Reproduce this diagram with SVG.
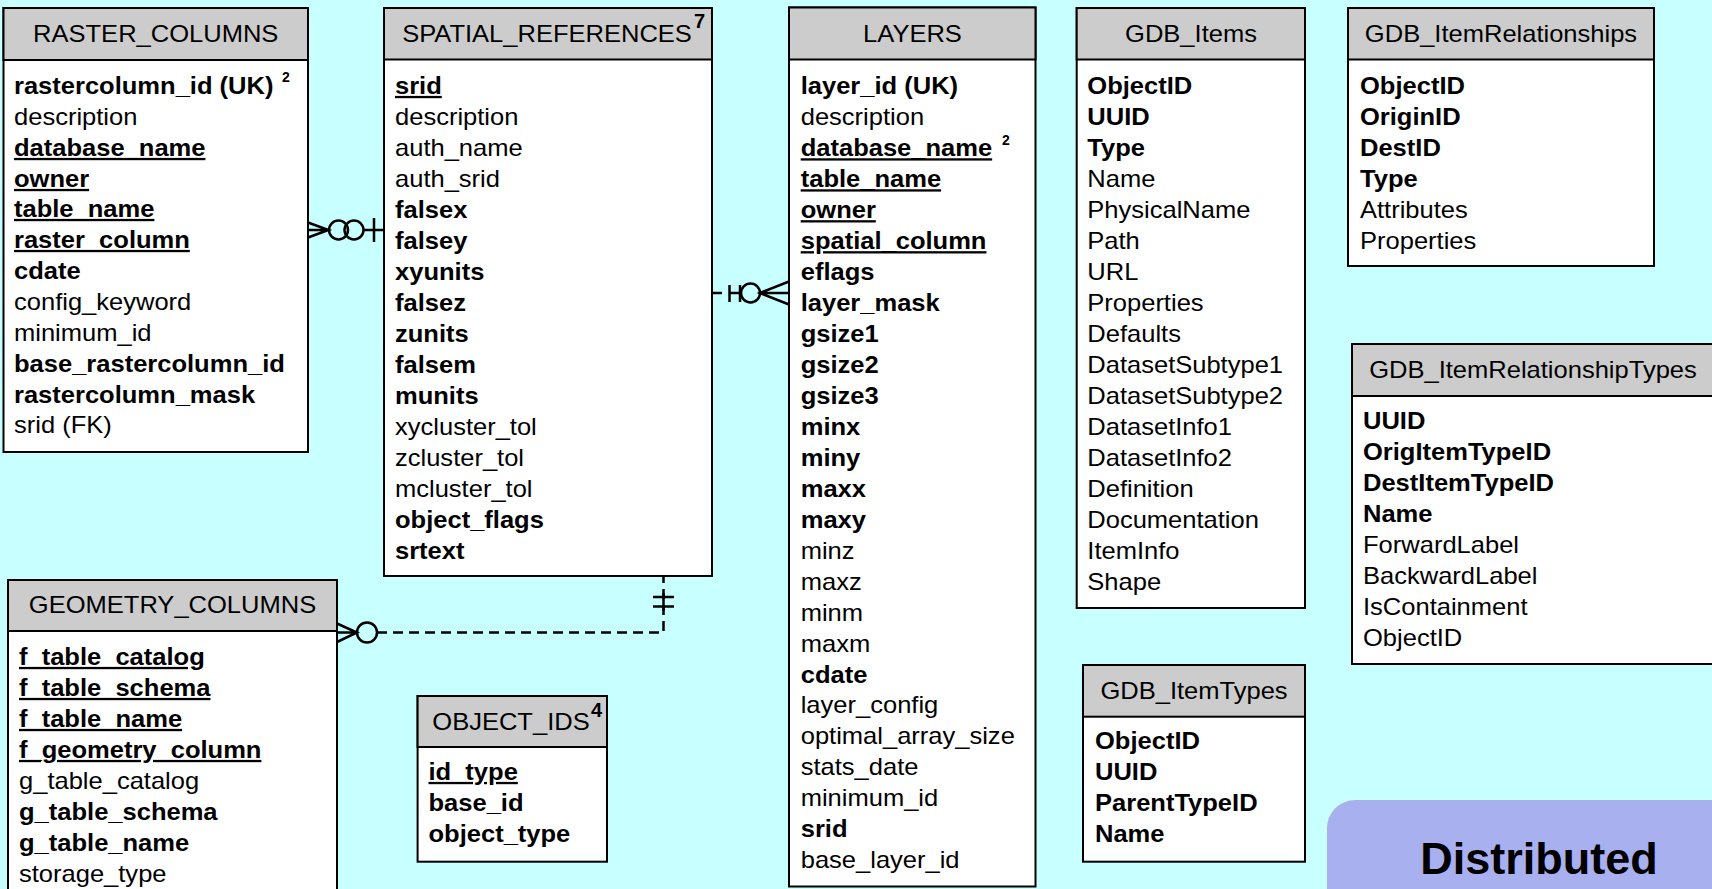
<svg xmlns="http://www.w3.org/2000/svg" width="1712" height="889" viewBox="0 0 1712 889">
<style>
text{font-family:"Liberation Sans",Arial,sans-serif;font-size:23px;fill:#000}
.b{font-weight:bold}
.u{font-weight:bold;text-decoration:underline}
.box{fill:#fff;stroke:#000;stroke-width:2}
.hd{fill:#cccccc;stroke:#000;stroke-width:2}
.ttl{text-anchor:middle}
.sup{font-size:14px;font-weight:bold}
.sup2{font-size:20px;font-weight:bold}
.ln{fill:none;stroke:#000;stroke-width:2.5}
.dash{stroke-dasharray:10 6}
.dist{fill:#a9b0f0}
.distt{font-size:45px;font-weight:bold;text-anchor:middle}
</style>
<rect x="0" y="0" width="1712" height="889" fill="#c8ffff"/>

<g id="raster_columns">
<rect class="box" x="3.5" y="8" width="304.5" height="444"/>
<rect class="hd" x="3.5" y="8" width="304.5" height="52"/>
<text class="ttl" transform="translate(155.7,42) scale(1.11,1)">RASTER_COLUMNS</text>
<g transform="translate(14,0) scale(1.11,1)">
<text class="b" y="94">rastercolumn_id (UK)</text>
<text y="125">description</text>
<text class="u" y="156">database_name</text>
<text class="u" y="187">owner</text>
<text class="u" y="217">table_name</text>
<text class="u" y="248">raster_column</text>
<text class="b" y="279">cdate</text>
<text y="310">config_keyword</text>
<text y="341">minimum_id</text>
<text class="b" y="372">base_rastercolumn_id</text>
<text class="b" y="403">rastercolumn_mask</text>
<text y="433">srid (FK)</text>
</g>
<text class="sup" x="282" y="82">2</text>
</g>

<g id="spatial_references">
<rect class="box" x="384" y="8" width="328" height="568"/>
<rect class="hd" x="384" y="8" width="328" height="51.5"/>
<text class="ttl" transform="translate(547,42) scale(1.11,1)">SPATIAL_REFERENCES</text>
<text class="sup2" x="694" y="28">7</text>
<g transform="translate(395,0) scale(1.11,1)">
<text class="u" y="94">srid</text>
<text y="125">description</text>
<text y="156">auth_name</text>
<text y="187">auth_srid</text>
<text class="b" y="218">falsex</text>
<text class="b" y="249">falsey</text>
<text class="b" y="280">xyunits</text>
<text class="b" y="311">falsez</text>
<text class="b" y="342">zunits</text>
<text class="b" y="373">falsem</text>
<text class="b" y="404">munits</text>
<text y="435">xycluster_tol</text>
<text y="466">zcluster_tol</text>
<text y="497">mcluster_tol</text>
<text class="b" y="528">object_flags</text>
<text class="b" y="559">srtext</text>
</g>
</g>

<g id="layers">
<rect class="box" x="789" y="7.5" width="246.5" height="879"/>
<rect class="hd" x="789" y="7.5" width="246.5" height="52"/>
<text class="ttl" transform="translate(912.5,42) scale(1.11,1)">LAYERS</text>
<g transform="translate(800.7,0) scale(1.11,1)">
<text class="b" y="94.5">layer_id (UK)</text>
<text y="125.5">description</text>
<text class="u" y="156.4">database_name</text>
<text class="u" y="187.4">table_name</text>
<text class="u" y="218.3">owner</text>
<text class="u" y="249.3">spatial_column</text>
<text class="b" y="280.2">eflags</text>
<text class="b" y="311.2">layer_mask</text>
<text class="b" y="342.1">gsize1</text>
<text class="b" y="373.1">gsize2</text>
<text class="b" y="404">gsize3</text>
<text class="b" y="435">minx</text>
<text class="b" y="465.9">miny</text>
<text class="b" y="496.9">maxx</text>
<text class="b" y="527.8">maxy</text>
<text y="558.8">minz</text>
<text y="589.7">maxz</text>
<text y="620.7">minm</text>
<text y="651.6">maxm</text>
<text class="b" y="682.6">cdate</text>
<text y="713.5">layer_config</text>
<text y="744.5">optimal_array_size</text>
<text y="775.4">stats_date</text>
<text y="806.4">minimum_id</text>
<text class="b" y="837.3">srid</text>
<text y="868.3">base_layer_id</text>
</g>
<text class="sup" x="1002" y="144.5">2</text>
</g>

<g id="gdb_items">
<rect class="box" x="1076.7" y="8" width="228.3" height="600"/>
<rect class="hd" x="1076.7" y="8" width="228.3" height="51.5"/>
<text class="ttl" transform="translate(1191,42) scale(1.11,1)">GDB_Items</text>
<g transform="translate(1087.3,0) scale(1.11,1)">
<text class="b" y="94">ObjectID</text>
<text class="b" y="125">UUID</text>
<text class="b" y="156">Type</text>
<text y="187">Name</text>
<text y="218">PhysicalName</text>
<text y="249">Path</text>
<text y="280">URL</text>
<text y="311">Properties</text>
<text y="342">Defaults</text>
<text y="373">DatasetSubtype1</text>
<text y="404">DatasetSubtype2</text>
<text y="435">DatasetInfo1</text>
<text y="466">DatasetInfo2</text>
<text y="497">Definition</text>
<text y="528">Documentation</text>
<text y="559">ItemInfo</text>
<text y="590">Shape</text>
</g>
</g>

<g id="gdb_itemrelationships">
<rect class="box" x="1348" y="8" width="306" height="258"/>
<rect class="hd" x="1348" y="8" width="306" height="51.5"/>
<text class="ttl" transform="translate(1501,42) scale(1.11,1)">GDB_ItemRelationships</text>
<g transform="translate(1360,0) scale(1.11,1)">
<text class="b" y="94">ObjectID</text>
<text class="b" y="125">OriginID</text>
<text class="b" y="156">DestID</text>
<text class="b" y="187">Type</text>
<text y="218">Attributes</text>
<text y="249">Properties</text>
</g>
</g>

<g id="gdb_itemrelationshiptypes">
<rect class="box" x="1352" y="344" width="362" height="320"/>
<rect class="hd" x="1352" y="344" width="362" height="52"/>
<text class="ttl" transform="translate(1533,378) scale(1.11,1)">GDB_ItemRelationshipTypes</text>
<g transform="translate(1363,0) scale(1.11,1)">
<text class="b" y="429">UUID</text>
<text class="b" y="460">OrigItemTypeID</text>
<text class="b" y="491">DestItemTypeID</text>
<text class="b" y="522">Name</text>
<text y="553">ForwardLabel</text>
<text y="584">BackwardLabel</text>
<text y="615">IsContainment</text>
<text y="646">ObjectID</text>
</g>
</g>

<g id="geometry_columns">
<rect class="box" x="8" y="580" width="329" height="320"/>
<rect class="hd" x="8" y="580" width="329" height="51"/>
<text class="ttl" transform="translate(172.5,613) scale(1.11,1)">GEOMETRY_COLUMNS</text>
<g transform="translate(19,0) scale(1.11,1)">
<text class="u" y="665">f_table_catalog</text>
<text class="u" y="696">f_table_schema</text>
<text class="u" y="727">f_table_name</text>
<text class="u" y="758">f_geometry_column</text>
<text y="789">g_table_catalog</text>
<text class="b" y="820">g_table_schema</text>
<text class="b" y="851">g_table_name</text>
<text y="882">storage_type</text>
</g>
</g>

<g id="object_ids">
<rect class="box" x="417.6" y="696" width="189.4" height="165.7"/>
<rect class="hd" x="417.6" y="696" width="189.4" height="51"/>
<text class="ttl" transform="translate(511,730) scale(1.11,1)">OBJECT_IDS</text>
<text class="sup2" x="591" y="717">4</text>
<g transform="translate(428.5,0) scale(1.11,1)">
<text class="u" y="780">id_type</text>
<text class="b" y="811">base_id</text>
<text class="b" y="842">object_type</text>
</g>
</g>

<g id="gdb_itemtypes">
<rect class="box" x="1083" y="665" width="222" height="196.7"/>
<rect class="hd" x="1083" y="665" width="222" height="51.7"/>
<text class="ttl" transform="translate(1194,699) scale(1.11,1)">GDB_ItemTypes</text>
<g transform="translate(1095,0) scale(1.11,1)">
<text class="b" y="749">ObjectID</text>
<text class="b" y="780">UUID</text>
<text class="b" y="811">ParentTypeID</text>
<text class="b" y="842">Name</text>
</g>
</g>

<g id="distributed">
<rect class="dist" x="1327" y="800" width="420" height="130" rx="28"/>
<text class="distt" x="1539" y="874">Distributed</text>
</g>

<g id="connectors">
<path class="ln" d="M308 230 H328.5 M308 222.5 L328.5 230 L308 237.5 M363.5 230 H384 M374 218 V242"/>
<circle class="ln" cx="338.5" cy="230" r="9.5"/>
<circle class="ln" cx="354" cy="230" r="9.5"/>
<path class="ln" d="M712 293 H722 M729.5 285 V302 M740 285 V302 M729.5 293 H740 M760 293 H789 M789 281.5 L760 293 L789 304.5"/>
<circle class="ln" cx="750.5" cy="293" r="9.5"/>
<path class="ln dash" d="M377 632.5 H663.5 V577"/>
<path class="ln" d="M663.5 593 V611 M337 623.5 L357 632.5 L337 642 M337 632.5 H357 M653 597 H674 M653 606.5 H674"/>
<circle class="ln" cx="367" cy="632.5" r="10"/>
</g>
</svg>
